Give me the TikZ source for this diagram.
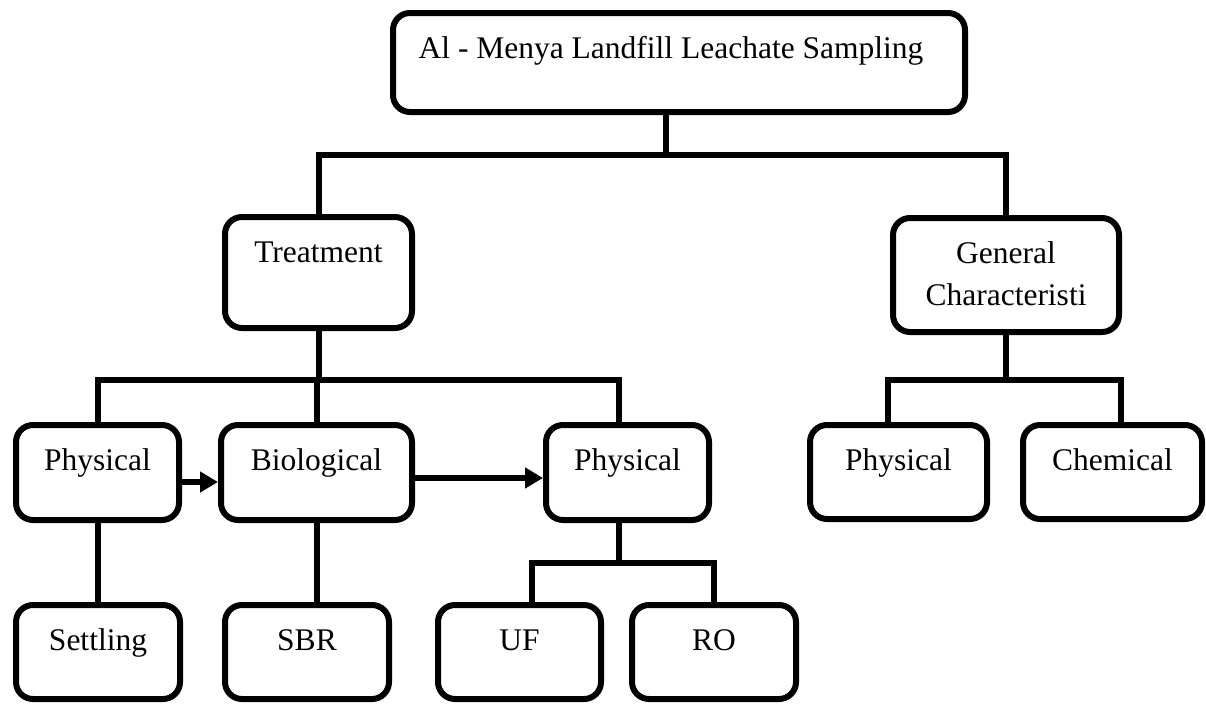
\documentclass[tikz,border=0pt]{standalone}
\usepackage{fontspec}
\setmainfont{Liberation Serif}
\usetikzlibrary{arrows.meta}
\begin{document}
\begin{tikzpicture}[x=1pt,y=-1pt,
  box/.style={draw, line width=6pt, rounded corners=17pt, inner sep=0pt},
  lbl/.style={anchor=base, yshift=-48pt, inner sep=0pt, align=center,
    font=\fontsize{31.5}{42}\selectfont},
  conn/.style={line width=6pt},
  arr/.style={line width=6pt, -{Triangle[length=18pt,width=20pt]}}]
\useasboundingbox (0,0) rectangle (1206,704);
% boxes
\node[box, minimum width=572pt, minimum height=99pt, label={[lbl,xshift=-8pt]north:Al - Menya Landfill Leachate Sampling}] (top) at (679,62.5) {};
\node[box, minimum width=187pt, minimum height=111pt, label={[lbl]north:Treatment}] (treat) at (318.5,272.5) {};
\node[box, minimum width=226pt, minimum height=114pt, label={[lbl,yshift=-42pt]north:General\\Characteristi}] (gc) at (1006,275) {};
\node[box, minimum width=163pt, minimum height=95pt, label={[lbl]north:Physical}] (p1) at (97.5,472.5) {};
\node[box, minimum width=191pt, minimum height=95pt, label={[lbl]north:Biological}] (bio) at (316.5,472.5) {};
\node[box, minimum width=163pt, minimum height=95pt, label={[lbl]north:Physical}] (p2) at (627.5,472.5) {};
\node[box, minimum width=177pt, minimum height=94pt, label={[lbl]north:Physical}] (gphys) at (898.5,472) {};
\node[box, minimum width=179pt, minimum height=94pt, label={[lbl]north:Chemical}] (chem) at (1112.5,472) {};
\node[box, minimum width=164pt, minimum height=94pt, label={[lbl]north:Settling}] (settle) at (98,652) {};
\node[box, minimum width=164pt, minimum height=94pt, label={[lbl]north:SBR}] (sbr) at (307,652) {};
\node[box, minimum width=163pt, minimum height=94pt, label={[lbl]north:UF}] (uf) at (519.5,652) {};
\node[box, minimum width=164pt, minimum height=94pt, label={[lbl]north:RO}] (ro) at (714,652) {};
% junctions
\coordinate (j1) at (666,155);
\coordinate (j2) at (318.5,380);
\coordinate (j3) at (618.5,563);
\coordinate (j4) at (1006,380);
% connectors
\draw[conn] ([xshift=-13pt]top.south) -- (j1);
\draw[conn] (treat.north) |- (j1) -| (gc.north);
\draw[conn] (treat.south) -- (j2);
\draw[conn] (p1.north) |- (j2) -| ([xshift=-9pt]p2.north);
\draw[conn] (bio.north) -- (bio.north |- j2);
\draw[conn] (gc.south) -- (j4);
\draw[conn] ([xshift=-10.5pt]gphys.north) |- (j4) -| ([xshift=8.5pt]chem.north);
\draw[conn] ([xshift=-9pt]p2.south) -- (j3);
\draw[conn] ([xshift=12.5pt]uf.north) |- (j3) -| (ro.north);
\draw[conn] (p1.south) -- (p1.south |- settle.north);
\draw[conn] (bio.south) -- (bio.south |- sbr.north);
% arrows
\draw[arr] ([yshift=-9.5pt]p1.east) -- ([yshift=-9.5pt]p1.east -| bio.west);
\draw[arr] ([yshift=-5.5pt]bio.east) -- ([yshift=-5.5pt]bio.east -| p2.west);
\end{tikzpicture}
\end{document}
